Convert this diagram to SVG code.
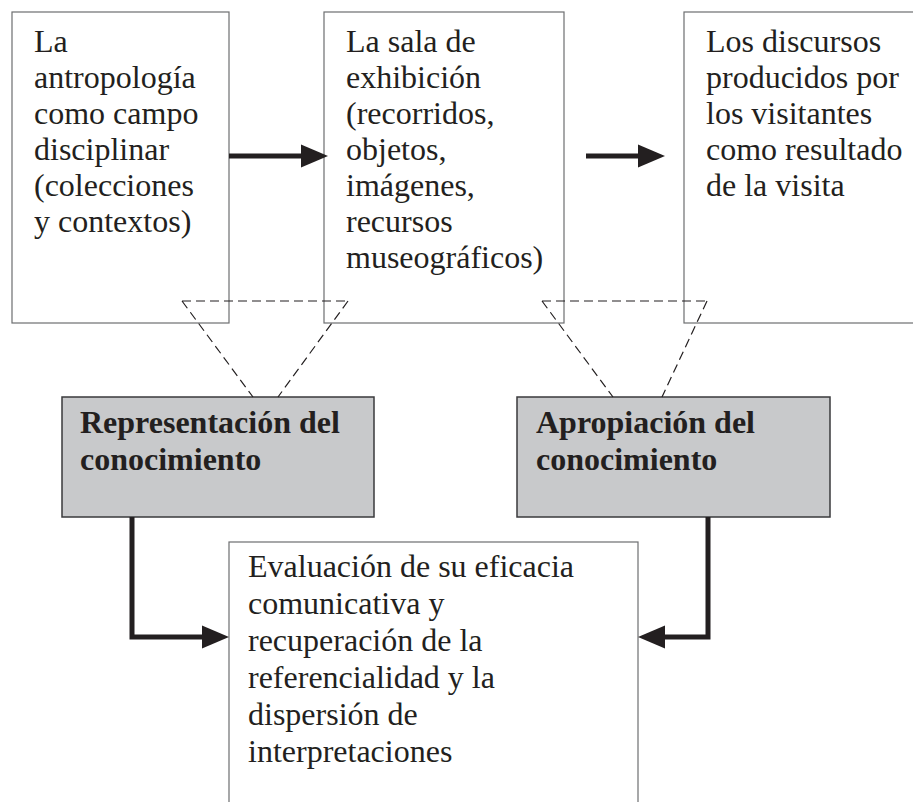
<svg xmlns="http://www.w3.org/2000/svg" width="913" height="802" viewBox="0 0 913 802">
<style>
.box{fill:#fff;stroke:#6d6e70;stroke-width:1.2}
.gbox{fill:#c8c9cb;stroke:#3a3a3c;stroke-width:1.5}
.t{font-family:"Liberation Serif","Times New Roman",serif;font-size:32px;fill:#231f20}
.b{font-family:"Liberation Serif","Times New Roman",serif;font-size:32px;font-weight:bold;fill:#231f20}
.dash{fill:none;stroke:#231f20;stroke-width:1.2;stroke-dasharray:9 5}
.arr{fill:none;stroke:#231f20;stroke-width:5}
</style>
<defs>
<marker id="ah" markerUnits="userSpaceOnUse" markerWidth="28" markerHeight="24" refX="0" refY="11.5" orient="auto" viewBox="0 0 28 23" overflow="visible">
<path d="M0,0 L27,11.5 L0,23 z" fill="#231f20"/>
</marker>
</defs>
<g id="n1">
<rect class="box" x="12" y="12" width="217" height="311"/>
<text class="t"><tspan x="34" y="52">La</tspan><tspan x="34" y="88">antropología</tspan><tspan x="34" y="124">como campo</tspan><tspan x="34" y="160">disciplinar</tspan><tspan x="34" y="196">(colecciones</tspan><tspan x="34" y="232">y contextos)</tspan></text>
</g>
<g id="n2">
<rect class="box" x="324" y="12" width="240" height="311"/>
<text class="t"><tspan x="346" y="52">La sala de</tspan><tspan x="346" y="88">exhibición</tspan><tspan x="346" y="124">(recorridos,</tspan><tspan x="346" y="160">objetos,</tspan><tspan x="346" y="196">imágenes,</tspan><tspan x="346" y="232">recursos</tspan><tspan x="346" y="268">museográficos)</tspan></text>
</g>
<g id="n3">
<rect class="box" x="684" y="12" width="260" height="311"/>
<text class="t"><tspan x="706" y="52">Los discursos</tspan><tspan x="706" y="88">producidos por</tspan><tspan x="706" y="124">los visitantes</tspan><tspan x="706" y="160">como resultado</tspan><tspan x="706" y="196">de la visita</tspan></text>
</g>
<g id="n4">
<rect class="gbox" x="62" y="397" width="312" height="120"/>
<text class="b"><tspan x="80" y="433">Representación del</tspan><tspan x="80" y="470">conocimiento</tspan></text>
</g>
<g id="n5">
<rect class="gbox" x="517" y="397" width="313" height="120"/>
<text class="b"><tspan x="536" y="433">Apropiación del</tspan><tspan x="536" y="470">conocimiento</tspan></text>
</g>
<g id="n6">
<rect class="box" x="229" y="542" width="409" height="280"/>
<text class="t"><tspan x="248" y="577">Evaluación de su eficacia</tspan><tspan x="248" y="614">comunicativa y</tspan><tspan x="248" y="651">recuperación de la</tspan><tspan x="248" y="688">referencialidad y la</tspan><tspan x="248" y="725">dispersión de</tspan><tspan x="248" y="762">interpretaciones</tspan></text>
</g>
<g id="connectors">
<path class="dash" d="M182,301 H348 M182,301 L253,397 M348,301 L278,397"/>
<path class="dash" d="M542,301 H707 M542,301 L613,397 M707,301 L662,397"/>
<path class="arr" d="M229,156 H301" marker-end="url(#ah)"/>
<path class="arr" d="M586,156 H638" marker-end="url(#ah)"/>
<path class="arr" d="M132,517 V637 H202" marker-end="url(#ah)"/>
<path class="arr" d="M708,517 V637 H665" marker-end="url(#ah)"/>
</g>
</svg>
